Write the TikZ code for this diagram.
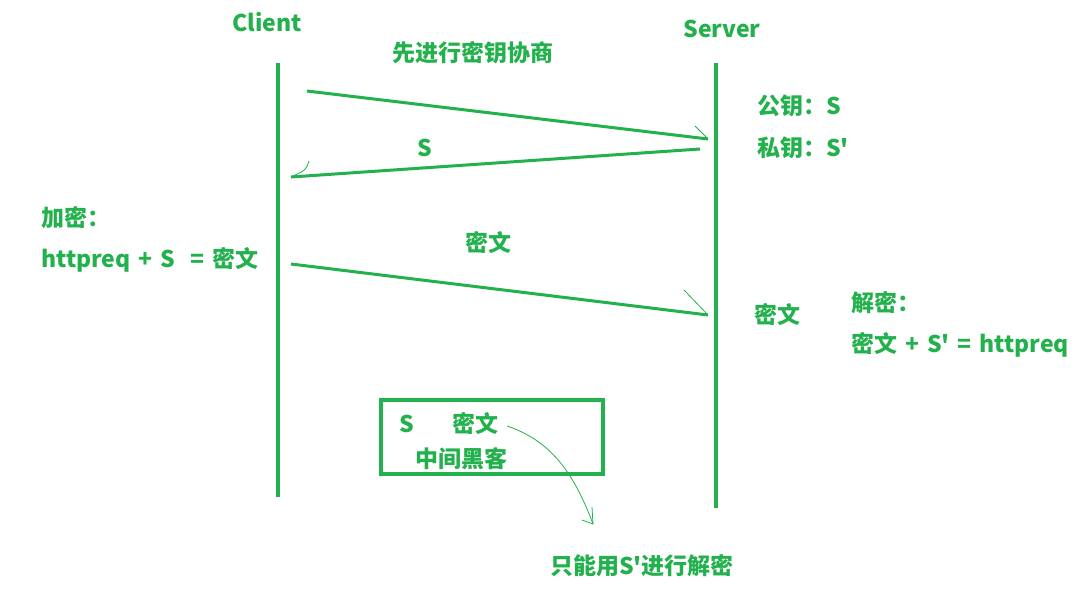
\documentclass[tikz,border=0pt]{standalone}
\usepackage{fontspec}
\setmainfont{Noto Sans CJK SC}[Ligatures=TeXOff,WordSpace=1.5]
\definecolor{PaintGreen}{RGB}{34,177,76}
\tikzset{
    lbl/.style={text=PaintGreen,font=\fontsize{23}{27}\selectfont\bfseries,inner sep=0pt},
    wire/.style={PaintGreen,line width=3.5pt},
    pen/.style={PaintGreen,line width=0.8pt}
}

\begin{document}
\begin{tikzpicture}[x=1pt,y=-1pt]
            \useasboundingbox (0,0) rectangle (1079,592);

            % lifelines
            \node[lbl] (client) at (267,22) {Client};
            \node[lbl] (server) at (722,29) {Server};
            \coordinate (c top) at (278,63);
            \coordinate (c bot) at (278,497);
            \coordinate (s top) at (716,63);
            \coordinate (s bot) at (716,508);
            \draw[wire] (c top) -- (c bot);
            \draw[wire] (s top) -- (s bot);

            \node[lbl] (nego) at (473,53) {先进行密钥协商};

            % key exchange
            \coordinate (m1 a) at (307,91);
            \coordinate (m1 b) at (708,139);
            \draw[wire,line width=3pt] (m1 a) -- (m1 b);
            \draw[pen] (695,126) -- (m1 b);
            \node[lbl,anchor=west] (pub) at (757,106) {公钥：S};
            \node[lbl,anchor=west] (priv) at (757,148) {私钥：S'};

            \coordinate (m2 a) at (700,149);
            \coordinate (m2 b) at (291,177);
            \draw[wire,line width=3pt] (m2 a) -- (m2 b);
            \draw[pen] (309,161) .. controls (306,170) .. (m2 b);
            \node[lbl] (key) at (425,148) {S};

            % encrypted request
            \node[lbl,anchor=west] (enc) at (41,218) {加密：};
            \node[lbl,anchor=west] (encf) at (41,260) {httpreq + S\ \ = 密文};
            \node[lbl] (cipher) at (488,243) {密文};

            \coordinate (m3 a) at (291,264);
            \coordinate (m3 b) at (708,315);
            \draw[wire,line width=3pt] (m3 a) -- (m3 b);
            \draw[pen] (684,290) -- (m3 b);
            \node[lbl] (recv) at (777,315) {密文};
            \node[lbl,anchor=west] (dec) at (851,303) {解密：};
            \node[lbl,anchor=west] (decf) at (851,345) {密文 + S' = httpreq};

            % man in the middle
            \draw[wire,line width=4pt] (381,400) rectangle (603,474);
            \node[lbl] (hk s) at (407,424) {S};
            \node[lbl] (hk c) at (475,424) {密文};
            \node[lbl] (hacker) at (461,459) {中间黑客};
            \coordinate (note tip) at (593,524);
            \draw[pen] (507,426) .. controls (548,440) and (572,468) .. (note tip);
            \draw[pen] (592,507) -- (note tip) -- (582,520);
            \node[lbl] (note) at (642,566) {只能用S'进行解密};
\end{tikzpicture}
\end{document}
